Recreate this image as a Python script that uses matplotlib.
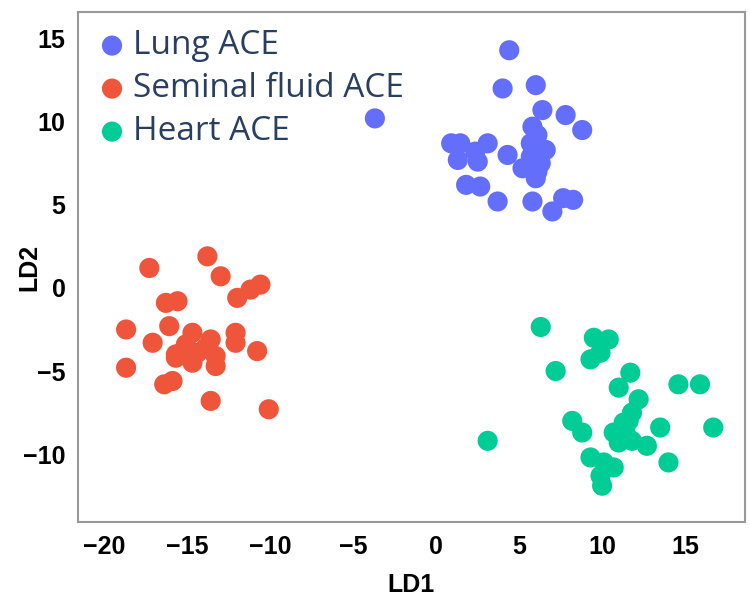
import matplotlib
matplotlib.use("Agg")
import matplotlib.pyplot as plt

lung_x = [-3.7, 4.4, 4.0, 6.0, 6.4, 7.8, 8.8, 0.9, 1.45, 3.1, 2.35, 1.3, 2.5, 1.8, 2.65,
          4.3, 3.7, 5.8, 7.0, 7.65, 8.25, 5.8, 6.1, 5.7, 6.6, 5.7, 6.3, 5.2, 6.0, 6.1]
lung_y = [10.2, 14.3, 12.0, 12.2, 10.7, 10.4, 9.5, 8.7, 8.7, 8.7, 8.2, 7.7, 7.6, 6.2, 6.1,
          8.0, 5.2, 5.2, 4.6, 5.4, 5.3, 9.7, 9.2, 8.7, 8.3, 7.9, 7.5, 7.2, 6.6, 7.0]

semen_x = [-17.3, -13.8, -13.0, -10.6, -11.2, -12.0, -16.3, -15.6, -18.7, -17.1, -16.1, -14.7,
           -15.1, -15.7, -14.4, -13.6, -13.3, -12.1, -12.1, -10.8, -15.7, -14.7, -13.3, -18.7,
           -16.4, -15.9, -13.6, -10.1, -15.4, -13.9]
semen_y = [1.2, 1.9, 0.7, 0.2, -0.1, -0.6, -0.9, -0.8, -2.5, -3.3, -2.3, -2.7,
           -3.4, -4.0, -3.9, -3.1, -4.1, -2.7, -3.3, -3.8, -4.2, -4.5, -4.7, -4.8,
           -5.8, -5.6, -6.8, -7.3, -3.9, -3.6]

heart_x = [6.3, 9.5, 10.4, 9.9, 9.3, 7.2, 11.7, 11.0, 14.6, 15.9, 12.2, 11.8, 11.3, 10.7,
           11.0, 11.8, 12.7, 13.5, 16.7, 14.0, 8.2, 8.8, 9.3, 10.1, 10.7, 9.9, 10.0, 3.1,
           11.6, 11.4]
heart_y = [-2.35, -3.0, -3.1, -3.9, -4.3, -5.0, -5.1, -6.0, -5.8, -5.8, -6.7, -7.5, -8.1, -8.7,
           -9.3, -9.2, -9.5, -8.4, -8.4, -10.5, -8.0, -8.7, -10.2, -10.5, -10.8, -11.3, -11.9, -9.2,
           -8.0, -8.7]

labels = ["Lung ACE", "Seminal fluid ACE", "Heart ACE"]
colors = ["#636EFA", "#EF553B", "#00CC96"]
xticks = [-20, -15, -10, -5, 0, 5, 10, 15]
yticks = [-10, -5, 0, 5, 10, 15]

fig = plt.figure(figsize=(7.5, 6.01), dpi=100)
ax = fig.add_axes([0.104, 0.131, 0.889, 0.849])

for xs, ys, lab, c in zip([lung_x, semen_x, heart_x], [lung_y, semen_y, heart_y], labels, colors):
    ax.scatter(xs, ys, s=210, color=c, label=lab, edgecolors='none', zorder=3)

ax.set_xlim(-21.6, 18.6)
ax.set_ylim(-14.1, 16.6)
ax.set_xticks(xticks)
ax.set_yticks(yticks)
ax.set_xticklabels([f"\u2212{abs(t)}" if t < 0 else str(t) for t in xticks],
                   fontsize=18, fontweight='bold', family='Liberation Sans')
ax.set_yticklabels([f"\u2212{abs(t)}" if t < 0 else str(t) for t in yticks],
                   fontsize=18, fontweight='bold', family='Liberation Sans')
ax.tick_params(length=0, pad=9)
for sp in ax.spines.values():
    sp.set_color('#999999')
    sp.set_linewidth(1.5)
ax.set_xlabel("LD1", fontsize=18, fontweight='bold', family='Liberation Sans', labelpad=10)
ax.set_ylabel("LD2", fontsize=18, fontweight='bold', family='Liberation Sans')
ax.yaxis.set_label_coords(-0.055, 0.5)

leg = ax.legend(loc='upper left', bbox_to_anchor=(0.0, 1.0), frameon=False,
                prop={'family': 'Open Sans', 'size': 24}, labelcolor='#2a3f5f',
                handletextpad=0.12, labelspacing=0.3, borderaxespad=0.12,
                handlelength=1.0, markerscale=1.0)

fig.savefig("out.png", dpi=100)
